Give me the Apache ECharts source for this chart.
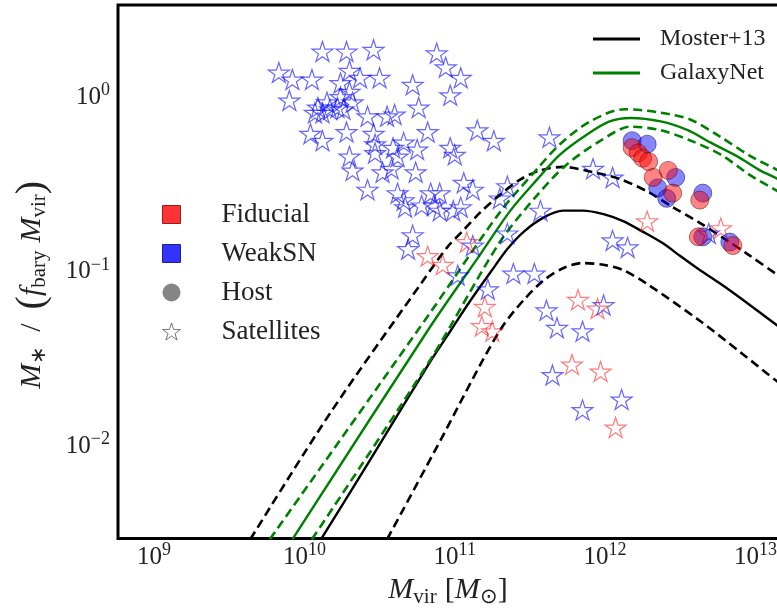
<!DOCTYPE html>
<html>
<head>
<meta charset="utf-8">
<script src="https://cdn.jsdelivr.net/npm/echarts@6/dist/echarts.min.js"></script>
<style>
  html, body { margin: 0; padding: 0; background: #fff; overflow: hidden; }
  /* the plot runs past the right edge of the window, as in the original */
  #chart { width: 802px; height: 613px; }
</style>
</head>
<body>
<div id="chart"></div>
<script>
// all values are log10 of the plotted quantity
const mosterMedM = [10.11, 10.47, 10.84, 10.97, 11.10, 11.24, 11.35, 11.46, 11.59, 11.72, 11.85, 11.99, 12.12, 12.25, 12.39, 12.50, 12.63, 12.77, 12.90, 13.15, 13.30]
const mosterMedF = [-2.53, -2.03, -1.51, -1.34, -1.17, -1.00, -0.87, -0.77, -0.69, -0.65, -0.65, -0.67, -0.71, -0.77, -0.84, -0.91, -0.99, -1.07, -1.15, -1.31, -1.40]
const mosterHiM = [9.64, 10.17, 10.79, 10.95, 11.06, 11.17, 11.30, 11.44, 11.57, 11.72, 11.92, 12.10, 12.28, 12.45, 12.63, 12.81, 12.95, 13.15, 13.30]
const mosterHiF = [-2.53, -1.81, -1.05, -0.86, -0.76, -0.66, -0.56, -0.47, -0.42, -0.40, -0.43, -0.47, -0.54, -0.63, -0.72, -0.82, -0.90, -1.02, -1.11]
const mosterLoM = [10.55, 10.92, 11.06, 11.19, 11.32, 11.46, 11.59, 11.72, 11.85, 11.99, 12.12, 12.28, 12.63, 12.90, 13.15, 13.30]
const mosterLoF = [-2.53, -1.94, -1.71, -1.50, -1.31, -1.16, -1.05, -0.98, -0.95, -0.96, -0.99, -1.07, -1.28, -1.46, -1.63, -1.72]

const gnetMedM = [9.92, 10.84, 11.17, 11.37, 11.55, 11.70, 11.87, 12.03, 12.17, 12.37, 12.55, 12.70, 12.88, 13.03, 13.15, 13.30]
const gnetMedF = [-2.53, -1.31, -0.90, -0.65, -0.47, -0.33, -0.22, -0.14, -0.12, -0.14, -0.19, -0.26, -0.34, -0.42, -0.47, -0.56]
const gnetHiM = [9.77, 10.84, 11.30, 11.55, 11.70, 11.90, 12.13, 12.37, 12.57, 12.77, 12.97, 13.15, 13.30]
const gnetHiF = [-2.53, -1.23, -0.66, -0.41, -0.27, -0.14, -0.07, -0.09, -0.13, -0.23, -0.34, -0.42, -0.50]
const gnetLoM = [10.05, 10.84, 11.30, 11.55, 11.74, 11.97, 12.17, 12.37, 12.57, 12.77, 12.97, 13.15, 13.30]
const gnetLoF = [-2.53, -1.50, -0.83, -0.56, -0.39, -0.25, -0.17, -0.19, -0.25, -0.33, -0.45, -0.54, -0.62]

// satellites, WeakSN run
const satWeakM = [10.12, 10.28, 10.46, 9.83, 9.92, 10.05, 10.30, 10.37, 10.50, 10.24, 9.90, 10.09, 10.15, 10.24, 10.30,
  10.12, 10.07, 10.26, 10.32, 10.42, 10.04, 10.12, 10.28, 10.46, 10.47, 10.30, 10.55, 10.17, 10.22, 10.88,
  10.94, 11.04, 10.72, 10.97, 10.76, 10.60, 10.82, 11.15, 11.26, 10.66, 10.59, 10.75, 10.97, 11.00, 10.32,
  10.47, 10.62, 10.52, 10.58, 10.74, 10.42, 10.62, 10.66, 10.67, 10.78, 10.84, 10.90, 10.86, 10.90, 10.99,
  11.04, 11.06, 11.12, 10.72, 10.69, 11.12, 11.22, 11.35, 11.30, 11.57, 11.35, 11.02, 11.39, 11.53, 11.61,
  11.68, 11.85, 11.99, 12.05, 12.15, 11.65, 11.85, 12.11, 11.92, 12.05, 12.69, 11.63]
const satWeakF = [0.26, 0.26, 0.27, 0.14, 0.10, 0.10, 0.15, 0.11, 0.11, 0.08, -0.02, -0.06, -0.03, 0.00, 0.03,
  -0.09, -0.09, -0.07, -0.03, -0.11, -0.21, -0.25, -0.20, -0.21, -0.27, -0.34, -0.11, -0.07, -0.06, 0.25,
  0.17, 0.11, 0.07, 0.01, -0.06, -0.10, -0.20, -0.19, -0.25, -0.26, -0.29, -0.30, -0.29, -0.33, -0.42,
  -0.32, -0.34, -0.43, -0.41, -0.43, -0.53, -0.55, -0.59, -0.63, -0.62, -0.55, -0.55, -0.62, -0.65, -0.65,
  -0.63, -0.49, -0.53, -0.79, -0.87, -0.85, -1.10, -0.51, -0.58, -0.65, -0.78, -1.02, -1.01, -1.01, -1.22,
  -1.32, -1.34, -1.19, -0.82, -0.86, -1.59, -1.79, -1.73, -0.41, -0.46, -0.78, -0.23]

// satellites, Fiducial run
const satFidM = [10.82, 10.92, 11.08, 11.20, 11.18, 11.25, 11.82, 11.95, 11.78, 11.97, 12.07, 12.28, 12.77]
const satFidF = [-0.91, -0.96, -0.83, -1.20, -1.31, -1.34, -1.16, -1.21, -1.53, -1.57, -1.89, -0.71, -0.75]

// host haloes
const hostWeakM = [12.18, 12.28, 12.47, 12.35, 12.41, 12.65, 12.65, 12.83]
const hostWeakF = [-0.25, -0.27, -0.46, -0.52, -0.58, -0.55, -0.80, -0.83]
const hostFidM = [12.18, 12.22, 12.25, 12.29, 12.32, 12.42, 12.45, 12.63, 12.62, 12.85]
const hostFidF = [-0.29, -0.32, -0.35, -0.37, -0.46, -0.42, -0.55, -0.59, -0.80, -0.85]

const F = 'Liberation Serif'
const STAR = 'path://M50,0L61.23,34.55L97.55,34.55L68.16,55.9L79.4,90.45L50,69.1L20.6,90.45L31.84,55.9L2.45,34.55L38.77,34.55Z'

function pts(ms, fs) {
  return ms.map((m, i) => [Math.pow(10, m), Math.pow(10, fs[i])])
}

function curve(name, ms, fs, color, dashed) {
  return {
    name: name,
    type: 'line',
    data: pts(ms, fs),
    smooth: 0.3,
    showSymbol: false,
    clip: true,
    lineStyle: { color: color, width: dashed ? 2.6 : 2.4, type: dashed ? [9, 5] : 'solid' },
    itemStyle: { color: color },
    emphasis: { disabled: true },
    z: 2
  }
}

function powLabel(v) {
  const l = Math.log10(v)
  const e = Math.round(l)
  if (Math.abs(l - e) > 1e-6) return ''
  return '{b|10}{p|' + (e < 0 ? '\u2212' + (-e) : e) + '}'
}

const labelRich = {
  b: { fontFamily: F, fontSize: 25, lineHeight: 32, color: '#222' },
  p: { fontFamily: F, fontSize: 18, lineHeight: 19, verticalAlign: 'top', color: '#222' }
}
const nameRich = {
  i: { fontFamily: F, fontSize: 30, fontStyle: 'italic', lineHeight: 36, color: '#222' },
  r: { fontFamily: F, fontSize: 30, lineHeight: 36, color: '#222' },
  pp: { fontFamily: F, fontSize: 40, lineHeight: 36, color: '#222' },
  s: { fontFamily: F, fontSize: 21, lineHeight: 23, verticalAlign: 'bottom', color: '#222' },
  g: { width: 14 },
  g2: { width: 8 }
}

const myChart = echarts.init(document.getElementById('chart'))
myChart.setOption({
  animation: false,
  grid: {
    left: 118, top: 5, bottom: 74, right: 0,
    show: true, borderColor: '#000', borderWidth: 3, backgroundColor: '#fff'
  },
  legend: [
    {
      orient: 'vertical',
      left: 588, top: 22,
      itemWidth: 47, itemHeight: 3, itemGap: 10,
      selectedMode: false,
      textStyle: { fontFamily: F, fontSize: 24, color: '#222', padding: [0, 0, 0, 15] },
      data: [
        { name: 'Moster+13', icon: 'rect' },
        { name: 'GalaxyNet', icon: 'rect' }
      ]
    },
    {
      orient: 'vertical',
      left: 157, top: 196,
      itemWidth: 18, itemHeight: 18, itemGap: 12,
      selectedMode: false,
      textStyle: { fontFamily: F, fontSize: 27, color: '#222', padding: [0, 0, 0, 36] },
      data: [
        { name: 'Fiducial', icon: 'rect', itemStyle: { color: '#ff0000', borderColor: '#700', borderWidth: 1 } },
        { name: 'WeakSN', icon: 'rect', itemStyle: { color: '#0000ff', borderColor: '#007', borderWidth: 1 } },
        { name: 'Host', icon: 'circle', itemStyle: { color: '#666', borderWidth: 0 } },
        { name: 'Satellites', icon: STAR, itemStyle: { color: 'rgba(0,0,0,0)', borderColor: '#555', borderWidth: 1 } }
      ]
    }
  ],
  xAxis: {
    type: 'log',
    logBase: 10,
    min: Math.pow(10, 8.76),
    max: Math.pow(10, 13.31),
    name: '{i|M}{s|vir}{g2|}{r|[}{i|M}{s|\u2299}{r|]}',
    nameLocation: 'middle',
    nameGap: 28,
    nameTextStyle: { rich: nameRich, padding: [0, 24, 0, 0] },
    axisLine: { show: false },
    axisTick: { show: false },
    splitLine: { show: false },
    minorTick: { show: false },
    axisLabel: { margin: 3, formatter: powLabel, rich: labelRich, showMinLabel: false, showMaxLabel: false }
  },
  yAxis: {
    type: 'log',
    logBase: 10,
    min: Math.pow(10, -2.526),
    max: Math.pow(10, 0.526),
    name: '{i|M}{s|\u2217}{g|}{r|/}{g|}{pp|(}{i|f}{s|bary}{g2|}{i|M}{s|vir}{pp|)}',
    nameLocation: 'middle',
    nameGap: 68,
    nameTextStyle: { rich: nameRich, padding: [0, 26, 0, 0] },
    axisLine: { show: false },
    axisTick: { show: false },
    splitLine: { show: false },
    minorTick: { show: false },
    axisLabel: { margin: 8, formatter: powLabel, rich: labelRich, showMinLabel: false, showMaxLabel: false }
  },
  series: [
    curve('Moster+13', mosterMedM, mosterMedF, '#000', false),
    curve('Moster+13 hi', mosterHiM, mosterHiF, '#000', true),
    curve('Moster+13 lo', mosterLoM, mosterLoF, '#000', true),
    curve('GalaxyNet', gnetMedM, gnetMedF, '#008000', false),
    curve('GalaxyNet hi', gnetHiM, gnetHiF, '#008000', true),
    curve('GalaxyNet lo', gnetLoM, gnetLoF, '#008000', true),
    {
      name: 'WeakSN satellites', type: 'scatter', data: pts(satWeakM, satWeakF),
      symbol: STAR, symbolSize: 21, symbolKeepAspect: true,
      itemStyle: { color: 'rgba(0,0,0,0)', borderColor: 'rgba(0,0,255,0.75)', borderWidth: 1.2 },
      emphasis: { disabled: true }, z: 3
    },
    {
      name: 'Fiducial satellites', type: 'scatter', data: pts(satFidM, satFidF),
      symbol: STAR, symbolSize: 21, symbolKeepAspect: true,
      itemStyle: { color: 'rgba(0,0,0,0)', borderColor: 'rgba(255,0,0,0.65)', borderWidth: 1.2 },
      emphasis: { disabled: true }, z: 3
    },
    {
      name: 'WeakSN hosts', type: 'scatter', data: pts(hostWeakM, hostWeakF),
      symbol: 'circle', symbolSize: 18,
      itemStyle: { color: 'rgba(0,0,255,0.6)', borderColor: 'rgba(0,0,60,0.6)', borderWidth: 1 },
      emphasis: { disabled: true }, z: 4
    },
    {
      name: 'Fiducial hosts', type: 'scatter', data: pts(hostFidM, hostFidF),
      symbol: 'circle', symbolSize: 18,
      itemStyle: { color: 'rgba(255,0,0,0.6)', borderColor: 'rgba(80,0,0,0.6)', borderWidth: 1 },
      emphasis: { disabled: true }, z: 5
    },
    // legend-only entries
    { name: 'Fiducial', type: 'scatter', data: [] },
    { name: 'WeakSN', type: 'scatter', data: [] },
    { name: 'Host', type: 'scatter', data: [] },
    { name: 'Satellites', type: 'scatter', data: [] }
  ]
})
</script>
</body>
</html>
